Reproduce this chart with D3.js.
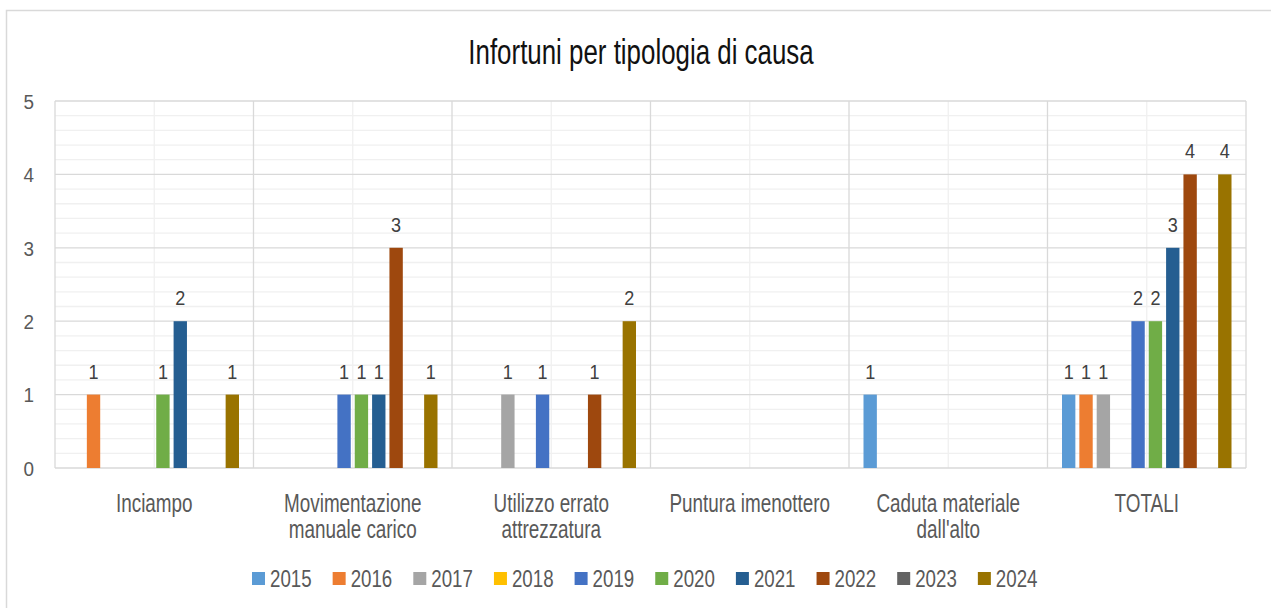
<!DOCTYPE html>
<html>
<head>
<meta charset="utf-8">
<script src="https://cdn.jsdelivr.net/npm/d3@7"></script>
<style>
  body { margin: 0; background: #fff; }
  text { font-family: "Liberation Sans", Arial, sans-serif; }
</style>
</head>
<body>
<div id="chart"></div>
<script>
// Data
const categories = ["Inciampo", "Movimentazione manuale carico", "Utilizzo errato attrezzatura",
  "Puntura imenottero", "Caduta materiale dall'alto", "TOTALI"];
const categoryLines = [["Inciampo"], ["Movimentazione", "manuale carico"], ["Utilizzo errato", "attrezzatura"],
  ["Puntura imenottero"], ["Caduta materiale", "dall'alto"], ["TOTALI"]];
const years = ["2015", "2016", "2017", "2018", "2019", "2020", "2021", "2022", "2023", "2024"];
const colors = ["#5B9BD5", "#ED7D31", "#A5A5A5", "#FFC000", "#4472C4", "#70AD47", "#255E91", "#9E480E", "#636363", "#997300"];

const v2015 = [null, null, null, null, 1, 1];
const v2016 = [1, null, null, null, null, 1];
const v2017 = [null, null, 1, null, null, 1];
const v2018 = [null, null, null, null, null, null];
const v2019 = [null, 1, 1, null, null, 2];
const v2020 = [1, 1, null, null, null, 2];
const v2021 = [2, 1, null, null, null, 3];
const v2022 = [null, 3, 1, null, null, 4];
const v2023 = [null, null, null, null, null, null];
const v2024 = [1, 1, 2, null, null, 4];
const seriesValues = [v2015, v2016, v2017, v2018, v2019, v2020, v2021, v2022, v2023, v2024];

const yTicks = [0, 1, 2, 3, 4, 5];

const W = 1271, H = 608;
const plot = { left: 55, right: 1246, top: 101, bottom: 468 };

const svg = d3.select("#chart").append("svg")
  .attr("width", W).attr("height", H);

// outer chart border
svg.append("rect")
  .attr("x", 6.5).attr("y", 10.5)
  .attr("width", W + 10).attr("height", H + 10)
  .attr("fill", "none").attr("stroke", "#d9d9d9").attr("stroke-width", 1.5);

// title (narrow look)
svg.append("text")
  .attr("transform", `translate(641,64) scale(0.74,1)`)
  .attr("text-anchor", "middle")
  .attr("font-size", 35)
  .attr("fill", "#111")
  .text("Infortuni per tipologia di causa");

const x0 = d3.scaleBand().domain(categories).range([plot.left, plot.right]).padding(0);
const x1 = d3.scaleBand().domain(years)
  .range([14.5, x0.bandwidth() - 14.5]).paddingInner(0.23).paddingOuter(0);
const y = d3.scaleLinear().domain([0, 5]).range([plot.bottom, plot.top]);

// minor horizontal grid
const minor = d3.range(0, 5.001, 0.2).filter(v => Math.abs(v - Math.round(v)) > 1e-6);
svg.append("g").selectAll("line").data(minor).join("line")
  .attr("x1", plot.left).attr("x2", plot.right)
  .attr("y1", d => y(d)).attr("y2", d => y(d))
  .attr("stroke", "#f0f0f0").attr("stroke-width", 1.3);

// minor vertical grid (category centres)
svg.append("g").selectAll("line").data(categories).join("line")
  .attr("x1", d => x0(d) + x0.bandwidth() / 2).attr("x2", d => x0(d) + x0.bandwidth() / 2)
  .attr("y1", plot.top).attr("y2", plot.bottom)
  .attr("stroke", "#f0f0f0").attr("stroke-width", 1.3);

// major horizontal grid
svg.append("g").selectAll("line").data(yTicks).join("line")
  .attr("x1", plot.left).attr("x2", plot.right)
  .attr("y1", d => y(d)).attr("y2", d => y(d))
  .attr("stroke", "#d9d9d9").attr("stroke-width", 1.3);

// major vertical grid (category borders)
const borders = categories.map(c => x0(c)).concat([plot.right]);
svg.append("g").selectAll("line").data(borders).join("line")
  .attr("x1", d => d).attr("x2", d => d)
  .attr("y1", plot.top).attr("y2", plot.bottom)
  .attr("stroke", "#d9d9d9").attr("stroke-width", 1.3);

// y axis
const yAxis = svg.append("g")
  .attr("transform", `translate(${plot.left - 21},0)`)
  .call(d3.axisLeft(y).tickValues(yTicks).tickSize(0).tickPadding(0).tickFormat(d3.format("d")));
yAxis.select(".domain").remove();
yAxis.selectAll("text")
  .attr("font-family", "Liberation Sans, Arial, sans-serif")
  .attr("font-size", 21).attr("fill", "#595959").attr("dy", "0.35em")
  .attr("transform", "scale(0.9,1)");

// x axis with wrapped labels
const xAxis = svg.append("g")
  .attr("transform", `translate(0,${plot.bottom})`)
  .call(d3.axisBottom(x0).tickSize(0).tickPadding(0));
xAxis.select(".domain").remove();
xAxis.selectAll("text")
  .attr("font-family", "Liberation Sans, Arial, sans-serif")
  .attr("font-size", 25).attr("fill", "#595959")
  .attr("transform", "scale(0.755,1)")
  .attr("y", 0).attr("dy", null)
  .each(function (d) {
    const t = d3.select(this).text(null);
    categoryLines[categories.indexOf(d)].forEach((line, i) => {
      t.append("tspan").attr("x", 0).attr("y", 44 + i * 26).text(line);
    });
  });

// bars
const bars = [];
years.forEach((yr, si) => {
  seriesValues[si].forEach((v, ci) => {
    if (v != null) bars.push({ year: yr, cat: categories[ci], value: v, color: colors[si] });
  });
});

svg.append("g").selectAll("rect").data(bars).join("rect")
  .attr("x", d => x0(d.cat) + x1(d.year))
  .attr("y", d => y(d.value))
  .attr("width", x1.bandwidth())
  .attr("height", d => y(0) - y(d.value))
  .attr("fill", d => d.color);

// data labels
svg.append("g").selectAll("text").data(bars).join("text")
  .attr("transform", d => `translate(${x0(d.cat) + x1(d.year) + x1.bandwidth() / 2},${y(d.value) - 16}) scale(0.88,1)`)
  .attr("text-anchor", "middle")
  .attr("font-size", 20.5)
  .attr("fill", "#404040")
  .text(d => d.value);

// legend
const legend = svg.append("g").selectAll("g").data(years).join("g")
  .attr("transform", (d, i) => `translate(${252 + i * 80.65},572)`);
legend.append("rect")
  .attr("width", 13).attr("height", 13)
  .attr("fill", (d, i) => colors[i]);
legend.append("text")
  .attr("transform", "translate(18,14.5) scale(0.78,1)")
  .attr("font-size", 24)
  .attr("fill", "#595959")
  .text(d => d);
</script>
</body>
</html>
